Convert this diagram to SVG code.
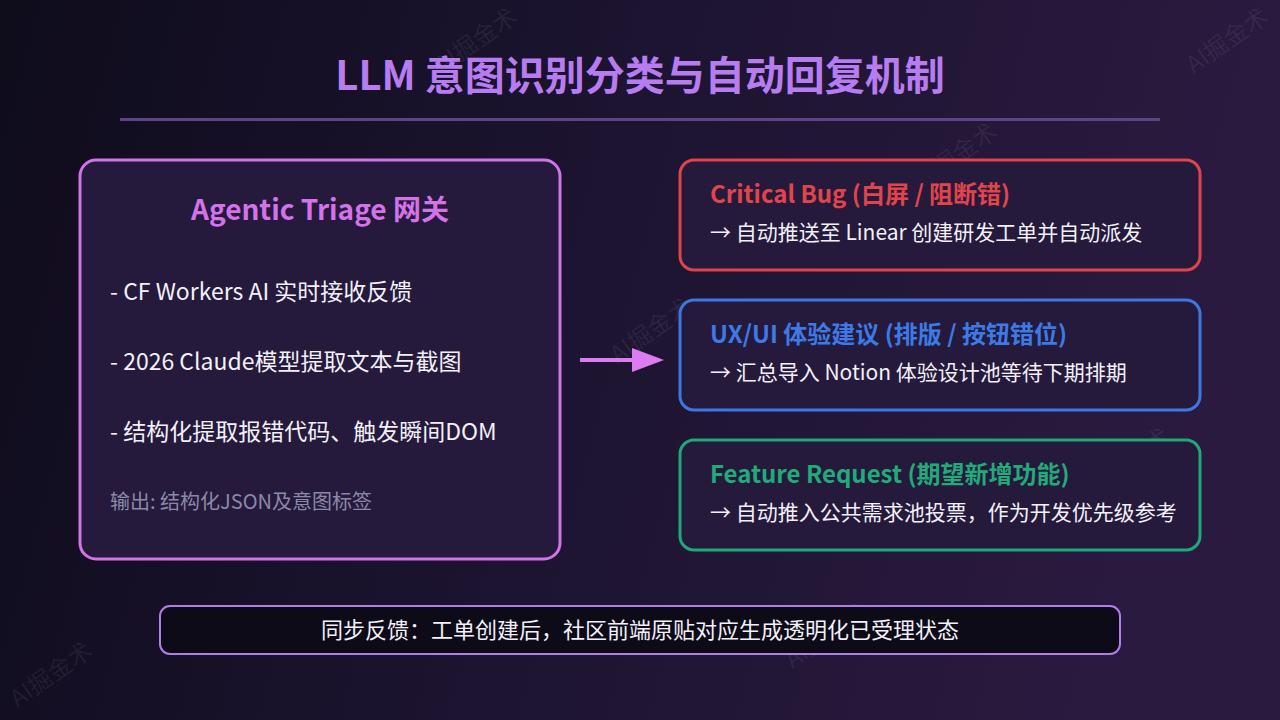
<svg xmlns="http://www.w3.org/2000/svg" width="1280" height="720" viewBox="0 0 1280 720">
  <defs>
    <linearGradient id="bg" x1="0" y1="0" x2="1" y2="0.15">
      <stop offset="0" stop-color="#0f0c1c"/>
      <stop offset="0.5" stop-color="#1c1430"/>
      <stop offset="1" stop-color="#2b1a40"/>
    </linearGradient>
    <style>
      text { font-family: "Noto Sans CJK SC", "Noto Sans", sans-serif; }
      .title { font-size: 40px; font-weight: 700; fill: #b67cf0; }
      .card { fill: #251a3c; stroke-width: 3; }
      .bullet { font-size: 23px; fill: #f2f0f8; }
      .note { font-size: 20px; fill: #8a89a8; }
      .ctitle { font-size: 24px; font-weight: 700; }
      .cdesc { font-size: 21px; fill: #f2f0f8; }
      .wm { font-size: 24px; fill: #ffffff; fill-opacity: 0.07; }
    </style>
  </defs>
  <rect width="1280" height="720" fill="url(#bg)"/>

  <g id="watermarks">
    <text class="wm" transform="translate(477,42) rotate(-35)" text-anchor="middle" dominant-baseline="middle">AI掘金术</text>
    <text class="wm" transform="translate(1228,42) rotate(-35)" text-anchor="middle" dominant-baseline="middle">AI掘金术</text>
    <text class="wm" transform="translate(175,206) rotate(-35)" text-anchor="middle" dominant-baseline="middle">AI掘金术</text>
    <text class="wm" transform="translate(349,507) rotate(-35)" text-anchor="middle" dominant-baseline="middle">AI掘金术</text>
    <text class="wm" transform="translate(652,332) rotate(-35)" text-anchor="middle" dominant-baseline="middle">AI掘金术</text>
    <text class="wm" transform="translate(957,157) rotate(-35)" text-anchor="middle" dominant-baseline="middle">AI掘金术</text>
    <text class="wm" transform="translate(827,637) rotate(-35)" text-anchor="middle" dominant-baseline="middle">AI掘金术</text>
    <text class="wm" transform="translate(1130,462) rotate(-35)" text-anchor="middle" dominant-baseline="middle">AI掘金术</text>
    <text class="wm" transform="translate(52,676) rotate(-35)" text-anchor="middle" dominant-baseline="middle">AI掘金术</text>
  </g>

  <g id="header">
    <text class="title" x="640" y="90" text-anchor="middle">LLM 意图识别分类与自动回复机制</text>
    <line x1="120" y1="119.5" x2="1160" y2="119.5" stroke="#5d4388" stroke-width="3"/>
  </g>

  <g id="gateway">
    <rect class="card" x="80" y="160" width="480" height="399" rx="16" stroke="#d472ea"/>
    <text x="320" y="220" text-anchor="middle" style="font-size:28px;font-weight:700;fill:#d472ea">Agentic Triage 网关</text>
    <text class="bullet" x="110" y="300">- CF Workers AI 实时接收反馈</text>
    <text class="bullet" x="110" y="370">- 2026 Claude模型提取文本与截图</text>
    <text class="bullet" x="110" y="440">- 结构化提取报错代码、触发瞬间DOM</text>
    <text class="note" x="110" y="509">输出: 结构化JSON及意图标签</text>
  </g>

  <g id="connectors">
    <line x1="580" y1="360" x2="634" y2="360" stroke="#dc7cf2" stroke-width="4"/>
    <polygon points="632,348 664,360 632,372" fill="#dc7cf2"/>
  </g>

  <g id="critical-bug">
    <rect class="card" x="680" y="160" width="520" height="110" rx="14" stroke="#df434b"/>
    <text class="ctitle" x="710" y="203" fill="#e2444c">Critical Bug (白屏 / 阻断错)</text>
    <text class="cdesc" x="710" y="240">→ 自动推送至 Linear 创建研发工单并自动派发</text>
  </g>

  <g id="ux-ui">
    <rect class="card" x="680" y="300" width="520" height="110" rx="14" stroke="#3c78e2"/>
    <text class="ctitle" x="710" y="343" fill="#3d7ae6">UX/UI 体验建议 (排版 / 按钮错位)</text>
    <text class="cdesc" x="710" y="380">→ 汇总导入 Notion 体验设计池等待下期排期</text>
  </g>

  <g id="feature-request">
    <rect class="card" x="680" y="440" width="520" height="110" rx="14" stroke="#1fa878"/>
    <text class="ctitle" x="710" y="483" fill="#21aa7a">Feature Request (期望新增功能)</text>
    <text class="cdesc" x="710" y="520">→ 自动推入公共需求池投票，作为开发优先级参考</text>
  </g>

  <g id="sync-feedback">
    <rect x="160" y="606" width="960" height="48" rx="10" fill="#0d0b18" stroke="#b07ee8" stroke-width="2"/>
    <text x="640" y="638" text-anchor="middle" style="font-size:22px;fill:#f2f0f8">同步反馈：工单创建后，社区前端原贴对应生成透明化已受理状态</text>
  </g>
</svg>
